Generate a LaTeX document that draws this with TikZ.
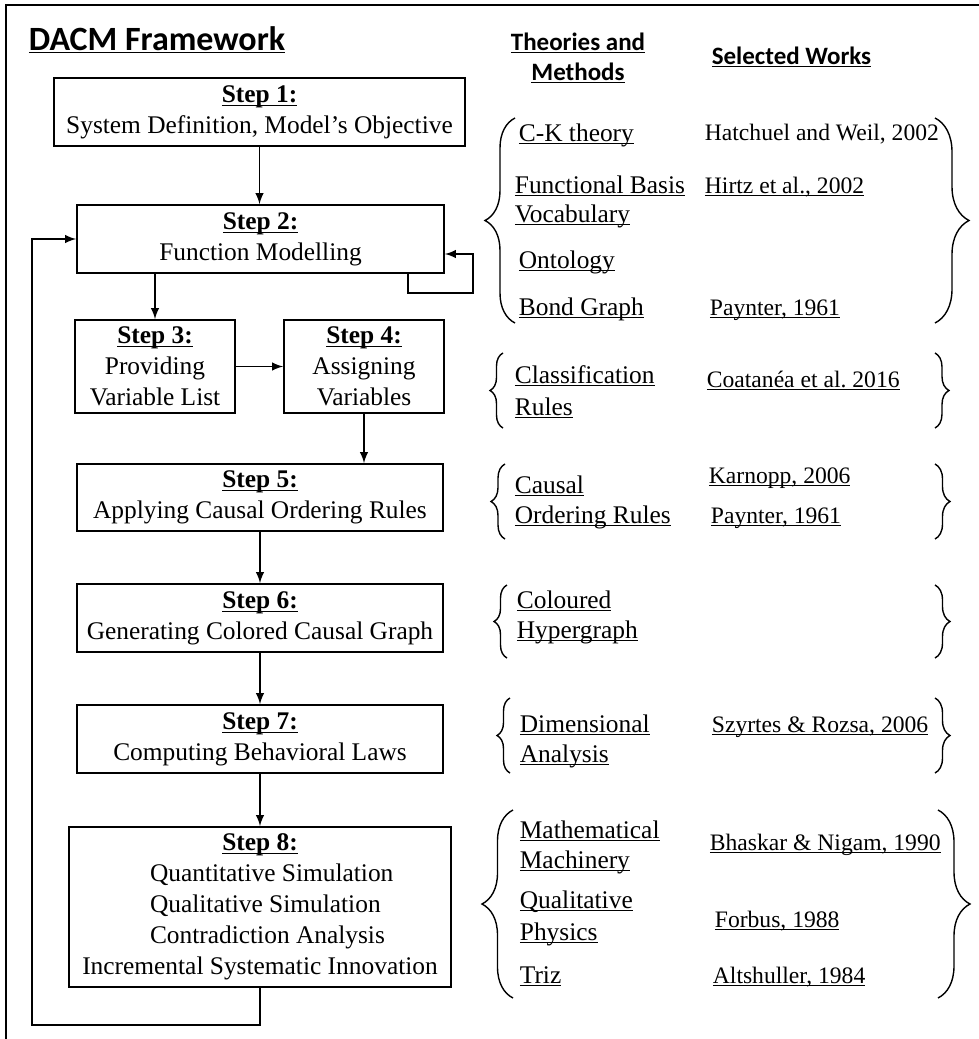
\documentclass[tikz,border=0pt]{standalone}
\usepackage{fontspec}
\setmainfont{Liberation Serif}
\newfontfamily\headfont{Carlito}
\usepackage{tikz}
\usetikzlibrary{arrows,decorations.pathreplacing}
\newcommand\uln[1]{\underline{\smash{#1}}\vphantom{#1}}
\frenchspacing

\begin{document}
\begin{tikzpicture}[x=0.5pt,y=-0.5pt,line width=0.9pt,>=latex,
	stepbox/.style={draw,align=center,inner sep=0pt,font=\fontsize{12.7}{15.5}\selectfont},
	head/.style={anchor=base,inner sep=0pt,font=\headfont\bfseries\fontsize{12.5}{15}\selectfont},
	theory/.style={anchor=base west,inner sep=0pt,font=\fontsize{12.7}{15}\selectfont},
	work/.style={anchor=base west,inner sep=0pt,font=\fontsize{11.8}{14}\selectfont},
	curly/.style={decorate,decoration={brace,amplitude=#1},line width=0.7pt}]
			%%Frame
			\useasboundingbox (0,0) rectangle (979,1039);
			\draw[line width=1pt] (6,1039) -- (6,5) -- (979,5);
			%%Title
			\node[anchor=base west,inner sep=0pt,font=\headfont\bfseries\fontsize{17}{20}\selectfont] (title) at (28,50) {\uln{DACM Framework}};
			\node[head] (th1) at (578,50) {\uln{Theories and}};
			\node[head] (th2) at (578,80) {\uln{Methods}};
			\node[head] (sw) at (791.5,64) {\uln{Selected Works}};
			%%Steps
			\node[stepbox,minimum width=205.5pt,minimum height=34pt] (s1) at (259.5,112) {\textbf{\uln{Step 1:}}\\ System Definition, Model's Objective};
			\node[stepbox,minimum width=183.5pt,minimum height=34pt] (s2) at (260.5,239) {\textbf{\uln{Step 2:}}\\ Function Modelling};
			\node[stepbox,minimum width=80pt,minimum height=46.5pt] (s3) at (155,366.5) {\textbf{\uln{Step 3:}}\\ Providing\\ Variable List};
			\node[stepbox,minimum width=80pt,minimum height=46.5pt] (s4) at (364,366.5) {\textbf{\uln{Step 4:}}\\ Assigning\\ Variables};
			\node[stepbox,minimum width=183pt,minimum height=33.5pt] (s5) at (260,497.5) {\textbf{\uln{Step 5:}}\\ Applying Causal Ordering Rules};
			\node[stepbox,minimum width=183pt,minimum height=34pt] (s6) at (260,618) {\textbf{\uln{Step 6:}}\\ Generating Colored Causal Graph};
			\node[stepbox,minimum width=183pt,minimum height=34pt] (s7) at (260,739) {\textbf{\uln{Step 7:}}\\ Computing Behavioral Laws};
			\node[stepbox,minimum width=191pt,minimum height=80pt] (s8) at (260,907) {\textbf{\uln{Step 8:}}\\ \makebox[110pt][l]{Quantitative Simulation}\\ \makebox[110pt][l]{Qualitative Simulation}\\ \makebox[110pt][l]{Contradiction Analysis}\\ Incremental Systematic Innovation};
			%%Arrows
			\coordinate (loop) at (473,293);
			\coordinate (back) at (32,1025);
			\draw[->] (s1.south) -- (s1.south |- s2.north);
			\draw[->] ([xshift=-18.5pt]s2.south east) |- (loop) |- ([yshift=-7.5pt]s2.east);
			\draw[->] (s2.south -| s3.north) -- (s3.north);
			\draw[->] (s3.east) -- (s4.west);
			\draw[->] (s4.south) -- (s4.south |- s5.north);
			\draw[->] (s5.south) -- (s6.north);
			\draw[->] (s6.south) -- (s7.north);
			\draw[->] (s7.south) -- (s8.north);
			\draw[->] (s8.south) |- (back) |- (s2.west);
			%%Braces
			\draw[curly=15pt] (515,323) -- (515,118);
			\draw[curly=17pt] (935,118) -- (935,323);
			\draw[curly=6.5pt] (503,428) -- (503,353);
			\draw[curly=7pt] (935,353) -- (935,428);
			\draw[curly=7pt] (505,539) -- (505,464);
			\draw[curly=7.5pt] (935,464) -- (935,539);
			\draw[curly=6.5pt] (507,658) -- (507,585);
			\draw[curly=7.5pt] (935,585) -- (935,658);
			\draw[curly=6.5pt] (510,773) -- (510,698);
			\draw[curly=7.5pt] (935,698) -- (935,773);
			\draw[curly=15.5pt] (513,998) -- (513,810);
			\draw[curly=16pt] (938,810) -- (938,998);
			%%Theories
			\node[theory] (ck) at (518,141) {\uln{C-K theory}};
			\node[theory] (fb1) at (514,193) {\uln{Functional Basis}};
			\node[theory] (fb2) at (514,222) {\uln{Vocabulary}};
			\node[theory] (on) at (518,268) {\uln{Ontology}};
			\node[theory] (bg) at (518,315) {\uln{Bond Graph}};
			\node[theory] (cr1) at (514,383) {\uln{Classification}};
			\node[theory] (cr2) at (514,415) {\uln{Rules}};
			\node[theory] (ca1) at (514,493) {\uln{Causal}};
			\node[theory] (ca2) at (514,523) {\uln{Ordering Rules}};
			\node[theory] (hg1) at (516,608) {\uln{Coloured}};
			\node[theory] (hg2) at (516,638) {\uln{Hypergraph}};
			\node[theory] (da1) at (519,732) {\uln{Dimensional}};
			\node[theory] (da2) at (519,762) {\uln{Analysis}};
			\node[theory] (mm1) at (519,838) {\uln{Mathematical}};
			\node[theory] (mm2) at (519,868) {\uln{Machinery}};
			\node[theory] (qp1) at (519,908) {\uln{Qualitative}};
			\node[theory] (qp2) at (519,940) {\uln{Physics}};
			\node[theory] (tr) at (519,983) {\uln{Triz}};
			%%Works
			\node[work] (hw) at (704,140) {Hatchuel and Weil, 2002};
			\node[work] (hz) at (704,193) {\uln{Hirtz et al., 2002}};
			\node[work] (py1) at (709,315) {\uln{Paynter, 1961}};
			\node[work] (co) at (706,387) {\uln{Coatanéa et al. 2016}};
			\node[work] (ka) at (708,483) {\uln{Karnopp, 2006}};
			\node[work] (py2) at (710,523) {\uln{Paynter, 1961}};
			\node[work] (sz) at (711,732) {\uln{Szyrtes \& Rozsa, 2006}};
			\node[work] (bn) at (709,850) {\uln{Bhaskar \& Nigam, 1990}};
			\node[work] (fo) at (714,927) {\uln{Forbus, 1988}};
			\node[work] (al) at (712,983) {\uln{Altshuller, 1984}};
\end{tikzpicture}
\end{document}
